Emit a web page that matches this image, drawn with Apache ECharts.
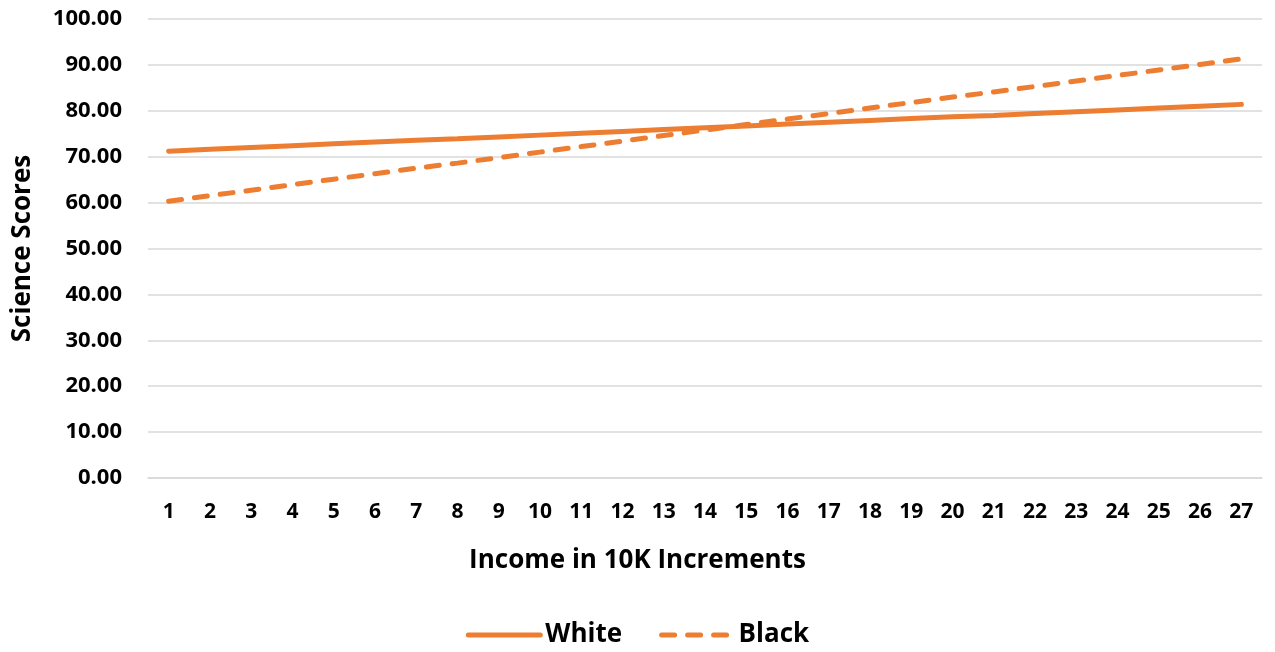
<!DOCTYPE html>
<html><head><meta charset="utf-8">
<script src="https://cdn.jsdelivr.net/npm/echarts@6/dist/echarts.min.js"></script>
<style>html,body{margin:0;padding:0;background:#fff}#c{width:1275px;height:652px}</style>
</head><body><div id="c"></div>
<script>
const categories = ['1','2','3','4','5','6','7','8','9','10','11','12','13','14','15','16','17','18','19','20','21','22','23','24','25','26','27'];
const whiteScores = [71.2,71.6,72.0,72.4,72.8,73.2,73.6,73.9,74.3,74.7,75.1,75.5,75.9,76.3,76.7,77.1,77.5,77.9,78.3,78.7,79.0,79.4,79.8,80.2,80.6,81.0,81.4];
const blackScores = [60.3,61.5,62.7,63.9,65.1,66.3,67.5,68.6,69.8,71.0,72.2,73.4,74.6,75.8,77.0,78.2,79.4,80.6,81.8,83.0,84.1,85.3,86.5,87.7,88.9,90.1,91.3];
const seriesNames = ['White','Black'];
const xAxisTitle = 'Income in 10K Increments';
const yAxisTitle = 'Science Scores';

const font = '"Open Sans", "Liberation Sans", sans-serif';
const color = '#ED7D31';
const chart = echarts.init(document.getElementById('c'), null, {renderer:'canvas'});
chart.setOption({
  animation:false,
  textStyle:{fontFamily:font},
  title:{
    text:xAxisTitle,left:'center',top:548,padding:0,
    textStyle:{fontFamily:font,fontWeight:'bold',fontSize:26,color:'#000'}
  },
  grid:{left:148,right:13,top:19,bottom:174,containLabel:false},
  legend:{
    bottom:-1,left:'center',itemWidth:72,itemHeight:14,itemGap:37,
    itemStyle:{opacity:0,borderWidth:0},
    lineStyle:{width:5,cap:'round'},
    textStyle:{fontFamily:font,fontWeight:'bold',fontSize:26,color:'#000'},
    data:seriesNames
  },
  xAxis:{
    type:'category',data:categories,boundaryGap:true,
    axisLine:{show:true,lineStyle:{color:'#D9D9D9',width:1.5}},
    axisTick:{show:false},
    axisLabel:{fontFamily:font,fontWeight:'bold',fontSize:21,color:'#000',margin:24,interval:0}
  },
  yAxis:{
    type:'value',min:0,max:100,interval:10,
    name:yAxisTitle,nameLocation:'middle',nameGap:112,nameRotate:90,
    nameTextStyle:{fontFamily:font,fontWeight:'bold',fontSize:26,color:'#000'},
    axisLine:{show:false},axisTick:{show:false},
    splitLine:{lineStyle:{color:'#D9D9D9',width:1.5}},
    axisLabel:{fontFamily:font,fontWeight:'bold',fontSize:22,color:'#000',margin:26,
      formatter:v=>v.toFixed(2)}
  },
  series:[
    {name:seriesNames[0],type:'line',data:whiteScores,symbol:'none',
      lineStyle:{color:color,width:5,cap:'round'},itemStyle:{color:color}},
    {name:seriesNames[1],type:'line',data:blackScores,symbol:'none',
      lineStyle:{color:color,width:5,type:[13,13],cap:'round'},itemStyle:{color:color}}
  ]
});
</script></body></html>
